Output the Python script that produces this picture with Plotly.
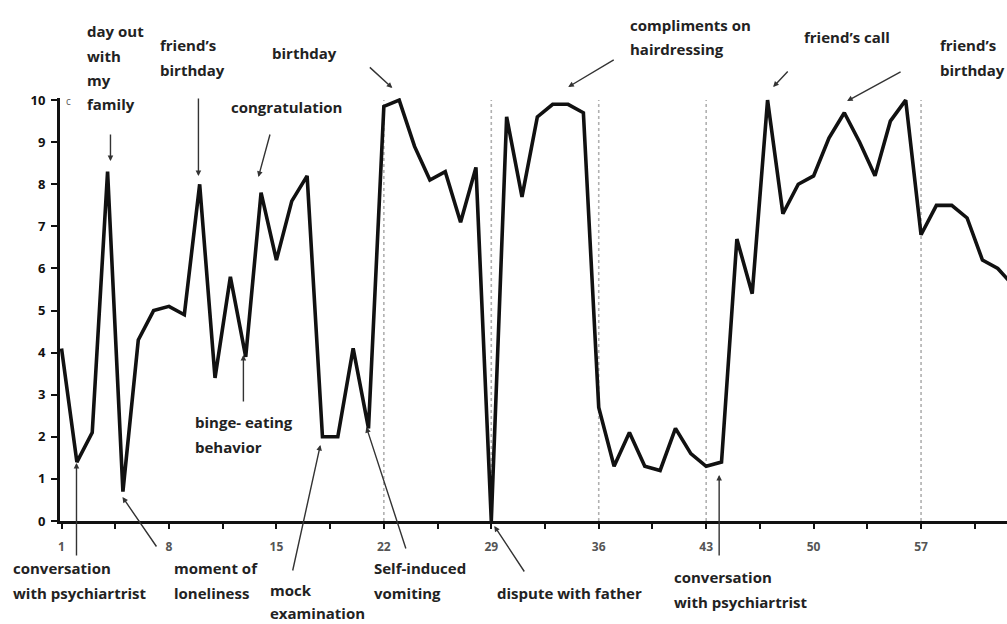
import plotly.graph_objects as go

# ---------------- data ----------------
days = list(range(1, 64))
mood = [4.1, 1.4, 2.1, 8.3, 0.7, 4.3, 5.0, 5.1, 4.9, 8.0,
        3.4, 5.8, 3.9, 7.8, 6.2, 7.6, 8.2, 2.0, 2.0, 4.1,
        2.2, 9.85, 10.0, 8.9, 8.1, 8.3, 7.1, 8.4, 0.0, 9.6,
        7.7, 9.6, 9.9, 9.9, 9.7, 2.7, 1.3, 2.1, 1.3, 1.2,
        2.2, 1.6, 1.3, 1.4, 6.7, 5.4, 10.0, 7.3, 8.0, 8.2,
        9.1, 9.7, 9.0, 8.2, 9.5, 10.0, 6.8, 7.5, 7.5, 7.2,
        6.2, 6.0, 5.6]
x_tick_vals = [1, 8, 15, 22, 29, 36, 43, 50, 57]
x_tick_text = ["1", "8", "15", "22", "29", "36", "43", "50", "57"]
x_minor_vals = [4.5, 11.5, 18.5, 25.5, 32.5, 39.5, 46.5, 53.5, 60.5]
y_tick_vals = [0, 1, 2, 3, 4, 5, 6, 7, 8, 9, 10]
dashed_days = [22, 29, 36, 43, 57]

# event labels: (lines, left px, first line centre px, line gap px)
event_labels = [
    (["day out", "with", "my", "family"], 85, 31, 24.5),
    (["friend\u2019s", "birthday"], 158, 45, 24.5),
    (["birthday"], 270, 53, 24.5),
    (["congratulation"], 229, 107, 24.5),
    (["compliments on", "hairdressing"], 628, 25, 23.5),
    (["friend\u2019s call"], 802, 37, 24.5),
    (["friend\u2019s", "birthday"], 938, 45, 24.5),
    (["binge- eating", "behavior"], 193, 422, 24.5),
    (["conversation", "with psychiartrist"], 10, 568, 24.5),
    (["moment of", "loneliness"], 172, 568, 24.5),
    (["mock", "examination"], 268, 590, 22.5),
    (["Self-induced", "vomiting"], 372, 568, 24.5),
    (["dispute with father"], 495, 593, 24.5),
    (["conversation", "with psychiartrist"], 672, 577, 24.5),
]
# arrows: head px, tail px
event_arrows = [
    ((110, 161), (110, 133)),
    ((198, 176), (198, 97)),
    ((392, 88), (368, 66)),
    ((258, 177), (270, 133)),
    ((568, 87), (615, 59)),
    ((773, 87), (789, 70)),
    ((847, 101), (902, 71)),
    ((243, 355), (243, 403)),
    ((76, 463), (76, 557)),
    ((122, 497), (157, 548)),
    ((320, 445), (292, 572)),
    ((366, 427), (406, 550)),
    ((494, 526), (525, 573)),
    ((719, 475), (719, 557)),
]

# ---------------- layout geometry ----------------
W, H = 1007, 624
ML, MR, MT, MB = 59.5, 0, 98, 103
PW = W - ML - MR
PH = H - MT - MB


def px_x(px):
    return (px - ML) / PW


def px_y(py):
    return (H - MB - py) / PH


FONT = "Open Sans"

fig = go.Figure()
fig.add_trace(go.Scatter(
    x=days, y=mood, mode="lines",
    line=dict(color="#111111", width=3.6),
    showlegend=False, hoverinfo="skip",
))

shapes = []
for d in dashed_days:
    shapes.append(dict(type="line", xref="x", yref="y", x0=d, x1=d, y0=0, y1=10,
                       line=dict(color="#b0b0b0", width=1.6, dash="dot"), layer="below"))

annotations = []
for lines, lx, ly, gap in event_labels:
    for i, t in enumerate(lines):
        annotations.append(dict(
            text=t, xref="paper", yref="paper",
            x=px_x(lx), y=px_y(ly + i * gap),
            xanchor="left", yanchor="middle", showarrow=False,
            font=dict(family=FONT, size=15, color="#222222", weight="bold"),
        ))
# small stray mark next to the top tick
annotations.append(dict(
    text="c", xref="paper", yref="paper", x=px_x(64), y=px_y(101),
    xanchor="left", yanchor="middle", showarrow=False,
    font=dict(family=FONT, size=10, color="#555555"),
))
for (hx, hy), (tx, ty) in event_arrows:
    annotations.append(dict(
        text="", xref="paper", yref="paper",
        x=px_x(hx), y=px_y(hy), ax=tx - hx, ay=ty - hy,
        axref="pixel", ayref="pixel",
        showarrow=True, arrowhead=2, arrowsize=0.8, arrowwidth=1.4,
        arrowcolor="#333333", standoff=0,
    ))

fig.update_layout(
    width=W, height=H,
    margin=dict(l=ML, r=MR, t=MT, b=MB, pad=0),
    paper_bgcolor="white", plot_bgcolor="white",
    shapes=shapes, annotations=annotations,
    xaxis=dict(
        range=[0.9, 62.6], tickmode="array",
        tickvals=x_tick_vals, ticktext=x_tick_text,
        ticks="outside", ticklen=5, tickwidth=2, tickcolor="#111",
        minor=dict(tickvals=x_minor_vals, ticks="outside", ticklen=5,
                   tickwidth=2, tickcolor="#111"),
        showline=True, linecolor="#111", linewidth=3,
        showgrid=False, zeroline=False,
        ticklabelstandoff=8,
        tickfont=dict(family=FONT, size=12, color="#555555", weight="bold"),
    ),
    yaxis=dict(
        range=[0, 10.05], tickmode="array", tickvals=y_tick_vals,
        ticks="outside", ticklen=6, tickwidth=2, tickcolor="#111",
        showline=True, linecolor="#111", linewidth=3,
        showgrid=False, zeroline=False,
        ticklabelstandoff=3,
        tickfont=dict(family=FONT, size=13, color="#111111", weight="bold"),
    ),
)

fig.write_html("out.html", config={"displayModeBar": False},
               post_script="document.body.style.margin='0px';")
